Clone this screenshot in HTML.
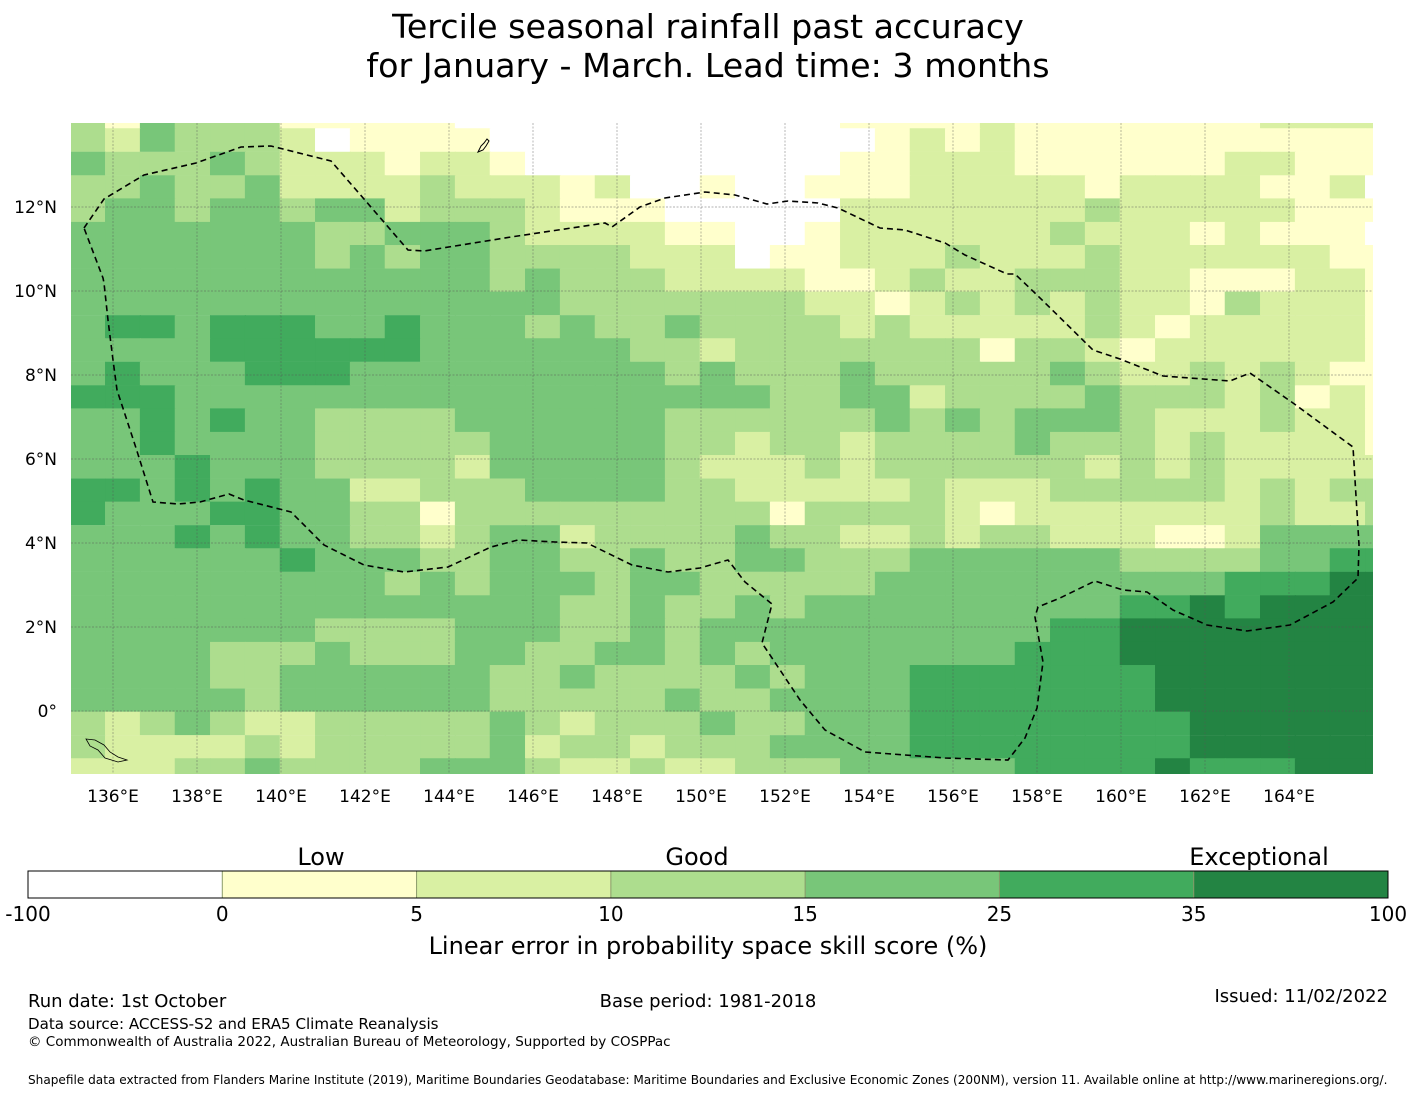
<!DOCTYPE html>
<html><head><meta charset="utf-8"><style>
html,body{margin:0;padding:0;background:#fff;}
body{width:1416px;height:1095px;position:relative;overflow:hidden;font-family:"Liberation Sans","DejaVu Sans",sans-serif;color:#000;}
</style></head><body>
<svg id="chart" width="1416" height="1095" viewBox="0 0 1416 1095" xmlns="http://www.w3.org/2000/svg" style="position:absolute;left:0;top:0;font-family:'DejaVu Sans','Liberation Sans',sans-serif;">
<text x="708" y="38" font-size="33.3" text-anchor="middle">Tercile seasonal rainfall past accuracy</text>
<text x="708" y="77" font-size="33.3" text-anchor="middle">for January - March. Lead time: 3 months</text>
<defs><clipPath id="mapclip"><rect x="71" y="123" width="1302" height="651"/></clipPath></defs>
<g id="map" clip-path="url(#mapclip)"></g>
<g id="axes"></g>
<g id="cbar"></g>
<text x="28" y="1007" font-size="18">Run date: 1st October</text>
<text x="708" y="1007" font-size="18" text-anchor="middle">Base period: 1981-2018</text>
<text x="1388" y="1002" font-size="18" text-anchor="end">Issued: 11/02/2022</text>
<text x="28" y="1029" font-size="15.1">Data source: ACCESS-S2 and ERA5 Climate Reanalysis</text>
<text x="28" y="1046" font-size="13.5">© Commonwealth of Australia 2022, Australian Bureau of Meteorology, Supported by COSPPac</text>
<text x="28" y="1084" font-size="12.1">Shapefile data extracted from Flanders Marine Institute (2019), Maritime Boundaries Geodatabase: Maritime Boundaries and Exclusive Economic Zones (200NM), version 11. Available online at http://www.marineregions.org/.</text>
</svg>
<script>
const lons = [135.39,136.23,137.06,137.89,138.73,139.56,140.39,141.23,142.06,142.89,143.73,144.56,145.39,146.23,147.06,147.89,148.73,149.56,150.39,151.23,152.06,152.89,153.73,154.56,155.39,156.23,157.06,157.89,158.73,159.56,160.39,161.23,162.06,162.89,163.73,164.56,165.39,166.23];
const lats = [14.15,13.60,13.04,12.48,11.93,11.37,10.82,10.26,9.71,9.15,8.60,8.04,7.48,6.93,6.37,5.82,5.26,4.71,4.15,3.60,3.04,2.48,1.93,1.37,0.82,0.26,-0.29,-0.85,-1.40];
// skill category per cell (0: <0, 1: 0-5, 2: 5-10, 3: 10-15, 4: 15-25, 5: 25-35, 6: 35-100)
const gridRows = [
"31433311111000000000001111211111112222",
"32433320111100000000000121211111111111",
"43334322212210000000001122211111122111",
"33433422223222120010011122222122221120",
"34434434423332111000002222222322222111",
"44444443344432222110012222223222121110",
"44444443434433332220112223222322222211",
"44444444444434333222211232233322111221",
"44444444444444333333322123232322132221",
"45545554454443433433332322222321222221",
"44445555554444443323333333133212222221",
"45444555444444444343334333334322323211",
"55544444444444444444334423333433323121",
"44545443333444444333333434344432223221",
"44544443333344444332332333343332322221",
"44454443333244444322232333333232322222",
"55454544223334444332222232223333323233",
"54445544331333333333133332122222223223",
"44454544332344233334332232332221124444",
"44444454443344334334433344444433334455",
"44444444434344434433333444444444455566",
"44444444444444334334344444444455656666",
"44444443333444334344444444445566666666",
"44443334333443344343444444455566666666",
"44443344444433433334344455555556666666",
"44444344444433333433444455555556666666",
"32343223333343233343344455555555666666",
"32222323333342332333444455555555666666",
"22233433334443223223334444455556555666"
];
const levelValues = [-50, 2.5, 7.5, 12.5, 20, 30, 60];
const cbarBounds = [-100, 0, 5, 10, 15, 25, 35, 100];
const cbarColors = ["#ffffff","#ffffcc","#d9f0a3","#addd8e","#78c679","#41ab5d","#238443"];
const xTicks = [136,138,140,142,144,146,148,150,152,154,156,158,160,162,164];
const yTicks = [0,2,4,6,8,10,12];
const qualityLabels = ["Low","Good","Exceptional"];

const NS="http://www.w3.org/2000/svg";
function X(lon){return 71+(lon-135)*42;}
function Y(lat){return 207+(12-lat)*42;}
function colorFor(v){for(let i=0;i<cbarBounds.length-1;i++){if(v<cbarBounds[i+1])return cbarColors[i];}return cbarColors[cbarColors.length-1];}
function mk(tag,attrs,parent){const e=document.createElementNS(NS,tag);for(const k in attrs)e.setAttribute(k,attrs[k]);parent.appendChild(e);return e;}

const map=document.getElementById('map');
const cw=X(lons[1])-X(lons[0]);
const ch=Y(lats[1])-Y(lats[0]);
for(let r=0;r<lats.length;r++){
  for(let c=0;c<lons.length;c++){
    const v=levelValues[+gridRows[r][c]];
    const rc=mk('rect',{x:(X(lons[c])-cw/2).toFixed(2),y:(Y(lats[r])-ch/2).toFixed(2),width:(cw+0.6).toFixed(2),height:(ch+0.6).toFixed(2),fill:colorFor(v)},map);
    
    
  }
}
for(const t of xTicks){
  const l=mk('line',{x1:X(t),x2:X(t),y1:123,y2:774,stroke:'#555','stroke-width':0.7,'stroke-dasharray':'2,1.5','stroke-opacity':0.6},map);
  
  
}
for(const t of yTicks){
  const l=mk('line',{x1:71,x2:1373,y1:Y(t),y2:Y(t),stroke:'#555','stroke-width':0.7,'stroke-dasharray':'2,1.5','stroke-opacity':0.6},map);
  
  
}
const eez=mk('path',{d:"M84,228 L104,199 L144,175 L196,163 L241,147 L271,146 L331,161 L364,199 L408,250 L424,251 L511,237 L605,223 L612,227 L640,207 L665,198 L705,192 L735,195 L767,204 L788,201 L818,203 L838,208 L880,228 L905,230 L945,243 L965,255 L1007,274 L1015,274 L1037,295 L1093,350 L1120,359 L1163,376 L1230,381 L1250,373 L1293,403 L1353,447 L1359,545 L1358,578 L1333,602 L1290,625 L1247,631 L1207,625 L1173,610 L1147,592 L1123,590 L1095,581 L1060,598 L1038,607 L1035,617 L1043,662 L1037,708 L1025,738 L1008,760 L945,758 L865,752 L825,730 L800,700 L762,643 L772,604 L745,582 L728,560 L700,568 L668,572 L632,565 L587,543 L555,542 L518,540 L491,547 L448,567 L404,572 L364,565 L324,545 L291,512 L244,500 L229,494 L200,502 L178,504 L153,502 L136,448 L117,390 L113,360 L108,320 L104,283 L103,278 Z",fill:'none',stroke:'#000','stroke-width':1.6,'stroke-dasharray':'6,4'},map);


const guam=mk('path',{d:"M478,152 L481,146 L484,143 L487,139 L489,141 L486,146 L483,150 Z",fill:'none',stroke:'#000','stroke-width':1},map);


const png=mk('path',{d:"M86,739 L95,740 L104,745 L110,752 L118,757 L127,760 L118,762 L105,758 L98,750 L90,746 Z",fill:'none',stroke:'#000','stroke-width':0.8},map);



const axes=document.getElementById('axes');
for(const t of xTicks){
  const tx=mk('text',{x:X(t),y:802,'font-size':17,'text-anchor':'middle'},axes);
  tx.textContent=t+'°E';
  
  
}
for(const t of yTicks){
  const tx=mk('text',{x:57,y:Y(t)+6,'font-size':17,'text-anchor':'end'},axes);
  tx.textContent=t===0?'0°':t+'°N';
  
  
}

const cb=document.getElementById('cbar');
const cx0=28,cx1=1388,cy=871,chh=27;
const segW=(cx1-cx0)/cbarColors.length;
for(let i=0;i<cbarColors.length;i++){
  const s=mk('rect',{x:cx0+i*segW,y:cy,width:segW,height:chh,fill:cbarColors[i],stroke:cbarColors[i],'stroke-width':0.5},cb);
  
  
  if(i>0){
    const d=mk('line',{x1:cx0+i*segW,x2:cx0+i*segW,y1:cy,y2:cy+chh,stroke:'#8a9a6a','stroke-width':1},cb);
    
    
  }
}
const bd=mk('rect',{x:cx0,y:cy,width:cx1-cx0,height:chh,fill:'none',stroke:'#000','stroke-width':1},cb);


for(let i=0;i<cbarBounds.length;i++){
  const t=mk('text',{x:cx0+i*segW,y:921,'font-size':20,'text-anchor':'middle'},cb);
  t.textContent=cbarBounds[i];
  
  
}
const qx=[321,697,1259];
for(let i=0;i<qualityLabels.length;i++){
  const t=mk('text',{x:qx[i],y:865,'font-size':24,'text-anchor':'middle'},cb);
  t.textContent=qualityLabels[i];
  
  
}
const cl=mk('text',{x:708,y:954,'font-size':24,'text-anchor':'middle'},cb);
cl.textContent='Linear error in probability space skill score (%)';


</script>
</body></html>
